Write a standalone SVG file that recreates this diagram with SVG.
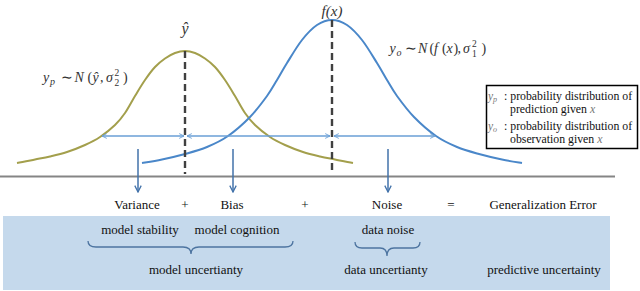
<svg xmlns="http://www.w3.org/2000/svg" xmlns:xlink="http://www.w3.org/1999/xlink" width="640" height="291" viewBox="0 0 640 291">
<style>
.t{font-family:"Liberation Serif","Times New Roman",serif;font-size:13px;fill:#111;text-anchor:middle}
.m{font-family:"Liberation Serif","Times New Roman",serif;font-style:italic;fill:#333}
.r{font-family:"Liberation Serif","Times New Roman",serif;fill:#333}
.lg{font-family:"Liberation Serif","Times New Roman",serif;font-size:11.8px;fill:#111}
.dash{stroke:#404040;stroke-width:2.4;stroke-dasharray:7 4;fill:none}
.ha{stroke:#6a9fd6;stroke-width:1.3;fill:none}
.va{stroke:#4272aa;stroke-width:1.5;fill:none}
.br{stroke:#4d74a0;stroke-width:1.3;fill:none}
</style>
<defs>
<path id="olive" d="M0,51 C3.33,51 6.67,51.75 10,53 C13.33,54.25 16.67,56.17 20,58.5 C23.33,60.83 26.67,63.42 30,67 C33.33,70.58 36.67,75.17 40,80 C43.33,84.83 46.67,90.5 50,96 C53.33,101.5 56.67,108.17 60,113 C63.33,117.83 65.83,121 70,125 C74.17,129 80,133.67 85,137 C90,140.33 94.5,142.5 100,145 C105.5,147.5 112.17,150.08 118,152 C123.83,153.92 129.67,155.25 135,156.5 C140.33,157.75 144.5,158.42 150,159.5 C155.5,160.58 162,161.92 168,163" fill="none" stroke="#a39f4c" stroke-width="2"/>
<path id="blue" d="M0,20 C5,20 10,21.67 15,25 C20,28.33 25,33.67 30,40 C35,46.33 40.83,56.33 45,63 C49.17,69.67 51.67,74.5 55,80 C58.33,85.5 60.5,89.83 65,96 C69.5,102.17 75.5,110.33 82,117 C88.5,123.67 96.83,131 104,136 C111.17,141 117.83,144 125,147 C132.17,150 139.5,151.92 147,154 C154.5,156.08 162.83,158 170,159.5 C177.17,161 183.33,161.92 190,163" fill="none" stroke="#4a87c9" stroke-width="2"/>
<marker id="hh" viewBox="0 0 10 10" refX="9" refY="5" markerWidth="6" markerHeight="6" orient="auto-start-reverse" markerUnits="userSpaceOnUse">
<path d="M1,1 L9,5 L1,9" fill="none" stroke="#6a9fd6" stroke-width="1.5"/>
</marker>
<marker id="vh" viewBox="0 0 10 10" refX="9" refY="5" markerWidth="8" markerHeight="8" orient="auto" markerUnits="userSpaceOnUse">
<path d="M1,1 L9,5 L1,9" fill="none" stroke="#4272aa" stroke-width="1.6"/>
</marker>
</defs>

<g id="box-bg">
<rect x="3" y="216" width="607" height="74" fill="#c5d9ec"/>
</g>

<g id="axis">
<line x1="0" y1="176.5" x2="615" y2="176.5" stroke="#858585" stroke-width="2"/>
</g>

<g id="prediction-curve">
<use xlink:href="#olive" transform="translate(185,0)"/>
<use xlink:href="#olive" transform="translate(185,0) scale(-1,1)"/>
</g>

<g id="observation-curve">
<use xlink:href="#blue" transform="translate(332,0)"/>
<use xlink:href="#blue" transform="translate(332,0) scale(-1,1)"/>
</g>

<g id="yhat-line">
<line class="dash" x1="185" y1="51" x2="185" y2="174"/>
<text class="m" x="185" y="34" font-size="16" text-anchor="middle">ŷ</text>
</g>

<g id="fx-line">
<line class="dash" x1="332" y1="20" x2="332" y2="174"/>
<text class="m" x="332" y="16" font-size="15" text-anchor="middle">f<tspan class="r">(</tspan>x<tspan class="r">)</tspan></text>
</g>

<g id="yp-label" font-size="14">
<text class="m" x="43" y="82">y</text>
<text class="m" x="50" y="85" font-size="10">p</text>
<text class="r" x="61" y="82">∼</text>
<text class="m" x="74.5" y="82">N</text>
<text class="r" x="87.5" y="82">(</text>
<text class="m" x="92.5" y="82">ŷ</text>
<text class="r" x="100" y="82">,</text>
<text class="m" x="106" y="82">σ</text>
<text class="r" x="114.5" y="76" font-size="9.5">2</text>
<text class="r" x="114.5" y="86" font-size="9.5">2</text>
<text class="r" x="123" y="82">)</text>
</g>

<g id="yo-label" font-size="14">
<text class="m" x="389.5" y="53">y</text>
<text class="m" x="396.5" y="56" font-size="10">o</text>
<text class="r" x="404.5" y="53">∼</text>
<text class="m" x="418" y="53">N</text>
<text class="r" x="429.5" y="53">(</text>
<text class="m" x="434" y="53">f</text>
<text class="r" x="442" y="53">(</text>
<text class="m" x="446.5" y="53">x</text>
<text class="r" x="453.5" y="53">)</text>
<text class="r" x="457.5" y="53">,</text>
<text class="m" x="463" y="53">σ</text>
<text class="r" x="472" y="47" font-size="9.5">2</text>
<text class="r" x="472" y="57" font-size="9.5">1</text>
<text class="r" x="481.5" y="53">)</text>
</g>

<g id="legend">
<rect x="486.5" y="85.5" width="151" height="63" fill="#fff" stroke="#000" stroke-width="1.5"/>
<text class="m" x="488" y="100" font-size="11.5" fill="#777" style="fill:#777">y<tspan font-size="8" dy="2">p</tspan></text>
<text class="lg" x="504" y="100">: probability distribution of</text>
<text class="lg" x="510" y="113">prediction given <tspan class="m" style="fill:#777">x</tspan></text>
<text class="m" x="488" y="129.5" font-size="11.5" style="fill:#777">y<tspan font-size="8" dy="2">o</tspan></text>
<text class="lg" x="504" y="129.5">: probability distribution of</text>
<text class="lg" x="510" y="143">observation given <tspan class="m" style="fill:#777">x</tspan></text>
</g>

<g id="connectors">
<line class="ha" x1="102" y1="136" x2="184" y2="136" marker-start="url(#hh)" marker-end="url(#hh)"/>
<line class="ha" x1="187" y1="136" x2="330" y2="136" marker-start="url(#hh)" marker-end="url(#hh)"/>
<line class="ha" x1="334" y1="136" x2="435" y2="136" marker-start="url(#hh)" marker-end="url(#hh)"/>
<line class="va" x1="138" y1="149" x2="138" y2="192" marker-end="url(#vh)"/>
<line class="va" x1="233" y1="149" x2="233" y2="192" marker-end="url(#vh)"/>
<line class="va" x1="388" y1="149" x2="388" y2="192" marker-end="url(#vh)"/>
</g>

<g id="equation">
<text class="t" x="137" y="208.5">Variance</text>
<text class="t" x="185" y="208.5">+</text>
<text class="t" x="232" y="208.5">Bias</text>
<text class="t" x="305" y="208.5">+</text>
<text class="t" x="387" y="208.5">Noise</text>
<text class="t" x="451" y="208.5">=</text>
<text class="t" x="543" y="208.5">Generalization Error</text>
</g>

<g id="model-uncertainty">
<text class="t" x="140" y="233.5">model stability</text>
<text class="t" x="237" y="233.5">model cognition</text>
<path class="br" d="M88,241 Q88,247 96,247 L183,247 Q191,247 191,254 Q191,247 199,247 L285,247 Q293,247 293,241"/>
<text class="t" x="196" y="273.5">model uncertianty</text>
</g>

<g id="data-uncertainty">
<text class="t" x="388" y="233.5">data noise</text>
<path class="br" d="M355,242 Q355,248 362,248 L380,248 Q387,248 387,256 Q387,248 394,248 L413,248 Q420,248 420,242"/>
<text class="t" x="386" y="273.5">data uncertianty</text>
</g>

<g id="predictive-uncertainty">
<text class="t" x="544" y="273.5">predictive uncertainty</text>
</g>
</svg>
